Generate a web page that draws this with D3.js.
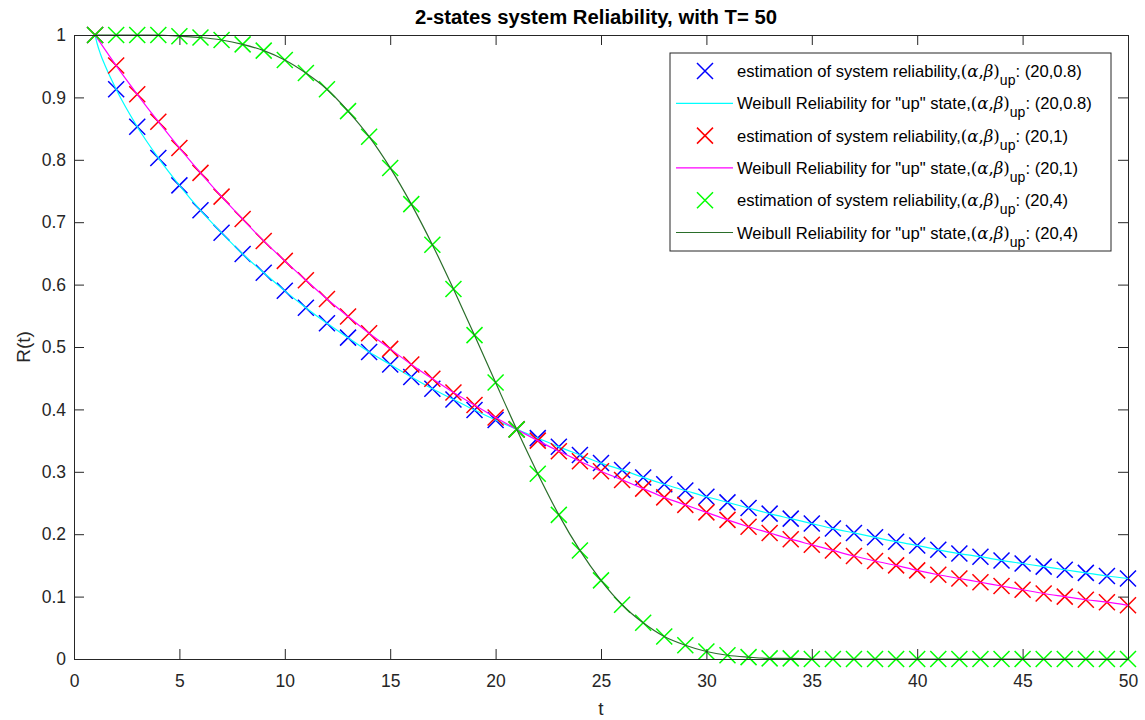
<!DOCTYPE html>
<html>
<head>
<meta charset="utf-8">
<script src="https://cdn.jsdelivr.net/npm/d3@7"></script>
<style>
  body { margin: 0; background: #fff; }
  text { font-family: "Liberation Sans", Arial, sans-serif; fill: #262626; }
</style>
</head>
<body>
<div class="chart"></div>
<script>
// time steps of the estimation
let tValues = d3.range(1, 51);

// estimated reliability (markers)
let estB08 = [1, 0.913, 0.853, 0.803, 0.759, 0.719, 0.683, 0.649, 0.619, 0.590,
  0.563, 0.538, 0.515, 0.492, 0.472, 0.452, 0.433, 0.416, 0.399, 0.383,
  0.368, 0.354, 0.340, 0.327, 0.314, 0.303, 0.291, 0.280, 0.270, 0.260,
  0.251, 0.242, 0.233, 0.225, 0.217, 0.209, 0.202, 0.195, 0.188, 0.182,
  0.175, 0.169, 0.164, 0.158, 0.153, 0.148, 0.143, 0.138, 0.133, 0.129];
let estB1 = [1, 0.951, 0.905, 0.861, 0.819, 0.779, 0.741, 0.705, 0.670, 0.638,
  0.607, 0.577, 0.549, 0.522, 0.497, 0.472, 0.449, 0.427, 0.407, 0.387,
  0.368, 0.350, 0.333, 0.317, 0.301, 0.287, 0.273, 0.259, 0.247, 0.235,
  0.223, 0.212, 0.202, 0.192, 0.183, 0.174, 0.165, 0.157, 0.150, 0.142,
  0.135, 0.129, 0.123, 0.117, 0.111, 0.105, 0.100, 0.095, 0.091, 0.086];
let estB4 = [1, 1, 1, 1, 0.998, 0.996, 0.992, 0.985, 0.975, 0.960,
  0.939, 0.913, 0.878, 0.837, 0.787, 0.729, 0.664, 0.593, 0.519, 0.443,
  0.368, 0.297, 0.231, 0.174, 0.126, 0.087, 0.058, 0.036, 0.022, 0.012,
  0.006, 0.003, 0.001, 0.001, 0, 0, 0, 0, 0, 0,
  0, 0, 0, 0, 0, 0, 0, 0, 0, 0];

// Weibull curves (lines); the beta=0.8 one has a few extra points near t=1
let lineTB08 = [1, 1.1, 1.25, 1.5].concat(d3.range(2, 51));
let lineB08 = [1, 0.986, 0.970, 0.949].concat(estB08.slice(1));
let lineTB1 = tValues;
let lineB1 = estB1;
let lineTB4 = tValues;
let lineB4 = estB4;

let xTicks = d3.range(0, 51, 5);
let yTicks = d3.range(0, 11).map(d => d / 10);

let width = 1145, height = 720;
let margin = {top: 35, bottom: 61, left: 74, right: 17};

let svg = d3.select(".chart").append("svg")
    .attr("width", width)
    .attr("height", height);

let x = d3.scaleLinear().domain([0, 50]).range([margin.left, width - margin.right]);
let y = d3.scaleLinear().domain([0, 1]).range([height - margin.bottom, margin.top]);

let plot = svg.append("g");

// axes box with inside ticks
let fmt = d => String(+d.toFixed(1));
svg.append("g")
    .attr("transform", `translate(0,${y(0)})`)
    .call(d3.axisBottom(x).tickValues(xTicks).tickSizeInner(-10).tickSizeOuter(0).tickPadding(16))
    .call(g => g.selectAll("text").style("font-size", "17.5px"));
svg.append("g")
    .attr("transform", `translate(0,${y(1)})`)
    .call(d3.axisTop(x).tickValues(xTicks).tickSizeInner(-10).tickSizeOuter(0).tickFormat(""));
svg.append("g")
    .attr("transform", `translate(${x(0)},0)`)
    .call(d3.axisLeft(y).tickValues(yTicks).tickSizeInner(-10).tickSizeOuter(0).tickPadding(8).tickFormat(fmt))
    .call(g => g.selectAll("text").style("font-size", "17.5px"));
svg.append("g")
    .attr("transform", `translate(${x(50)},0)`)
    .call(d3.axisRight(y).tickValues(yTicks).tickSizeInner(-10).tickSizeOuter(0).tickFormat(""));
svg.selectAll(".domain, .tick line").attr("stroke", "#262626");
svg.selectAll(".tick text").attr("fill", "#262626");

function crosses(vals, ts, color) {
    let s = 8;
    plot.append("g").selectAll("path")
        .data(vals)
        .join("path")
        .attr("d", (d, i) => {
            let cx = x(ts[i]), cy = y(d);
            return `M${cx - s},${cy - s}L${cx + s},${cy + s}M${cx - s},${cy + s}L${cx + s},${cy - s}`;
        })
        .attr("stroke", color)
        .attr("stroke-width", 1.5)
        .attr("fill", "none");
}

function curve(vals, ts, color) {
    let line = d3.line()
        .x((d, i) => x(ts[i]))
        .y(d => y(d))
        .curve(d3.curveMonotoneX);
    plot.append("path")
        .attr("d", line(vals))
        .attr("stroke", color)
        .attr("stroke-width", 1.2)
        .attr("fill", "none");
}

crosses(estB08, tValues, "#0000ff");
curve(lineB08, lineTB08, "#00ffff");
crosses(estB1, tValues, "#ff0000");
curve(lineB1, lineTB1, "#ff00ff");
crosses(estB4, tValues, "#00ff00");
curve(lineB4, lineTB4, "#2a6e2a");

// labels
svg.append("text")
    .attr("x", (x(0) + x(50)) / 2 - 5)
    .attr("y", 24)
    .attr("text-anchor", "middle")
    .style("font-size", "20.3px")
    .style("font-weight", "bold")
    .style("fill", "#000")
    .text("2-states system Reliability, with T= 50");

svg.append("text")
    .attr("x", (x(0) + x(50)) / 2)
    .attr("y", 715)
    .attr("text-anchor", "middle")
    .style("font-size", "19px")
    .text("t");

svg.append("text")
    .attr("transform", `translate(30,${y(0.5)}) rotate(-90)`)
    .attr("text-anchor", "middle")
    .style("font-size", "19px")
    .text("R(t)");

// legend
let legendItems = [
    {kind: "x", color: "#0000ff", label: "estimation of system reliability,", par: "(20,0.8)"},
    {kind: "l", color: "#00ffff", label: "Weibull Reliability for \"up\" state,", par: "(20,0.8)"},
    {kind: "x", color: "#ff0000", label: "estimation of system reliability,", par: "(20,1)"},
    {kind: "l", color: "#ff00ff", label: "Weibull Reliability for \"up\" state,", par: "(20,1)"},
    {kind: "x", color: "#00ff00", label: "estimation of system reliability,", par: "(20,4)"},
    {kind: "l", color: "#2a6e2a", label: "Weibull Reliability for \"up\" state,", par: "(20,4)"}
];

let legend = svg.append("g").attr("transform", "translate(670,53)");
legend.append("rect")
    .attr("width", 441)
    .attr("height", 198)
    .attr("fill", "#fff")
    .attr("stroke", "#262626")
    .attr("stroke-width", 1);

let rows = legend.selectAll("g.row")
    .data(legendItems)
    .join("g")
    .attr("class", "row")
    .attr("transform", (d, i) => `translate(0,${18 + i * 32.3})`);

rows.filter(d => d.kind === "x").append("path")
    .attr("d", "M27,-8L43,8M27,8L43,-8")
    .attr("stroke", d => d.color)
    .attr("stroke-width", 1.5);
rows.filter(d => d.kind === "l").append("line")
    .attr("x1", 6).attr("x2", 63)
    .attr("stroke", d => d.color)
    .attr("stroke-width", 1.2);

let txt = rows.append("text")
    .attr("x", 67)
    .attr("y", 6)
    .style("font-size", "16.6px")
    .style("fill", "#000");
txt.append("tspan").text(d => d.label);
txt.append("tspan").style("font-family", "DejaVu Serif").text("(");
txt.append("tspan").style("font-family", "DejaVu Serif").style("font-style", "italic").text("α");
txt.append("tspan").style("font-family", "DejaVu Serif").text(",");
txt.append("tspan").style("font-family", "DejaVu Serif").style("font-style", "italic").text("β");
txt.append("tspan").style("font-family", "DejaVu Serif").text(")");
txt.append("tspan").attr("dy", 8).style("font-size", "14px").text("up");
txt.append("tspan").attr("dy", -8).text(": ");
txt.append("tspan").text(d => d.par);
</script>
</body>
</html>
